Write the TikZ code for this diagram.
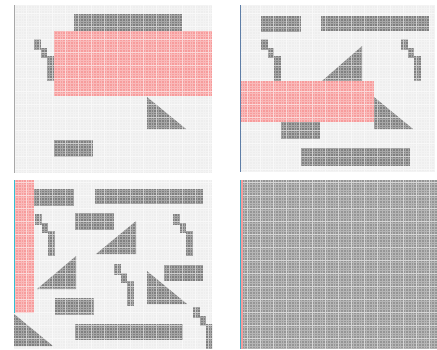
\documentclass[tikz,border=0pt]{standalone}
\definecolor{panelbg}{HTML}{EEEEEE}
\definecolor{shapegray}{HTML}{808080}
\definecolor{pinkfill}{HTML}{F79C9C}
\definecolor{edgeblue}{HTML}{5F7FA8}
\definecolor{edgegray}{HTML}{A8A8A8}
\definecolor{fullgray}{HTML}{959595}
\tikzset{
  panel/.style={fill=panelbg},
  solid block/.style={fill=shapegray},
  pink block/.style={fill=pinkfill},
  texture/.style={draw=white, line width=0.3pt, opacity=0.3},
  bigtexture/.style={draw=white, line width=0.8pt, opacity=0.45},
  stair/.pic={
    \fill[solid block] (0,0) rectangle (6.5,11);
    \fill[solid block] (6.5,9) rectangle (13,19);
    \fill[solid block] (13,17) rectangle (20,42);
  }
}
\begin{document}
\begin{tikzpicture}[x=1pt,y=-1pt]
\useasboundingbox (0,0) rectangle (437,349);
\fill[white] (0,0) rectangle (437,349);

% ---------- Panel 1 ----------
\begin{scope}
\clip (14,5) rectangle (212,173);
\fill[panel] (14,5) rectangle (212,173);
\fill[solid block] (74,14) rectangle (182,32);
\pic at (34,39) {stair};
\fill[solid block] (147,97) -- (147,129) -- (186,129) -- cycle;
\fill[solid block] (54,140) rectangle (93,157);
\fill[pink block] (54,31) rectangle (212,96);
\draw[texture] (14,173) grid[step=2.6pt] (212,5);
\draw[bigtexture] (14,173) grid[step=13pt] (212,5);
\end{scope}
\draw[edgegray, line width=1pt] (14,5) -- (14,173);

% ---------- Panel 2 ----------
\begin{scope}
\clip (240,5) rectangle (435,172);
\fill[panel] (240,5) rectangle (435,172);
\fill[solid block] (261,16) rectangle (301,32);
\fill[solid block] (321,16) rectangle (429,31);
\pic at (261,39) {stair};
\pic at (401,39) {stair};
\fill[solid block] (322,81) -- (362,46) -- (362,81) -- cycle;
\fill[solid block] (374,97) -- (374,129) -- (413,129) -- cycle;
\fill[solid block] (281,122) rectangle (320,139);
\fill[solid block] (301,148) rectangle (410,166);
\fill[pink block] (240,81) rectangle (374,122);
\draw[texture] (240,172) grid[step=2.6pt] (435,5);
\draw[bigtexture] (240,172) grid[step=13pt] (435,5);
\end{scope}
\draw[edgeblue, line width=1pt] (240,5) -- (240,172);

% ---------- Panel 3 ----------
\begin{scope}
\clip (14,180) rectangle (212,349);
\fill[panel] (14,180) rectangle (212,349);
\fill[solid block] (34,189) rectangle (74,206);
\fill[solid block] (95,189) rectangle (203,204);
\pic at (35,214) {stair};
\fill[solid block] (75,213) rectangle (114,230);
\fill[solid block] (96,254) -- (136,221) -- (136,254) -- cycle;
\pic at (173,214) {stair};
\fill[solid block] (37,289) -- (76,256) -- (76,289) -- cycle;
\pic at (114,264) {stair};
\fill[solid block] (147,271) -- (147,304) -- (187,304) -- cycle;
\fill[solid block] (164,265) rectangle (203,281);
\fill[solid block] (55,298) rectangle (94,315);
\fill[solid block] (14,314) -- (14,346) -- (53,346) -- cycle;
\fill[solid block] (75,324) rectangle (183,340);
\pic at (193,307) {stair};
\fill[pink block] (14,180) rectangle (34,313);
\draw[texture] (14,349) grid[step=2.6pt] (212,180);
\draw[bigtexture] (14,349) grid[step=13pt] (212,180);
\end{scope}
\draw[edgeblue!50!cyan, line width=0.8pt] (14,180) -- (14,313);

% ---------- Panel 4 ----------
\begin{scope}
\clip (240,180) rectangle (437,349);
\fill[fullgray] (240,180) rectangle (437,349);
\draw[texture] (240,349) grid[step=2.6pt] (437,180);
\draw[bigtexture] (240,349) grid[step=13pt] (437,180);
\fill[pink block] (240.5,180) rectangle (242.5,349);
\end{scope}
\draw[edgeblue!60!cyan, line width=0.8pt] (240,180) -- (240,349);
\end{tikzpicture}
\end{document}
